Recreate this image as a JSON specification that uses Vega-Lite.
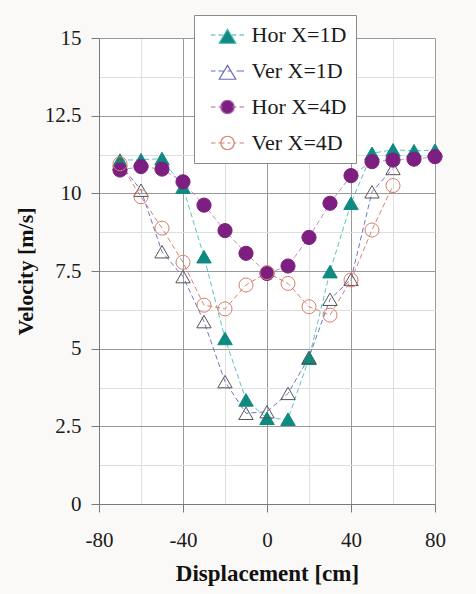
{
  "$schema": "https://vega.github.io/schema/vega-lite/v6.json",
  "autosize": {"type": "none"},
  "width": 336,
  "height": 466,
  "padding": {"left": 99, "top": 38, "right": 41, "bottom": 90},
  "background": "#faf9f7",
  "view": {"fill": "white", "stroke": null},
  "config": {
    "font": "Liberation Serif",
    "legend": {
      "orient": "none",
      "legendX": 95,
      "legendY": -23,
      "fillColor": "white",
      "strokeColor": "#8a8a8a",
      "padding": 9,
      "symbolOffset": 13.5,
      "labelOffset": 13,
      "rowPadding": 14,
      "symbolSize": 225,
      "symbolStrokeWidth": 1.2,
      "labelFont": "Liberation Serif",
      "labelFontSize": 22,
      "labelColor": "#1a1a1a",
      "labelLimit": 300
    }
  },
  "data": {
    "values": [
      {"s": "Hor X=1D", "x": -70, "v": 11.07},
      {"s": "Hor X=1D", "x": -60, "v": 11.08},
      {"s": "Hor X=1D", "x": -50, "v": 11.12},
      {"s": "Hor X=1D", "x": -40, "v": 10.2},
      {"s": "Hor X=1D", "x": -30, "v": 7.96},
      {"s": "Hor X=1D", "x": -20, "v": 5.33},
      {"s": "Hor X=1D", "x": -10, "v": 3.35},
      {"s": "Hor X=1D", "x": 0, "v": 2.76},
      {"s": "Hor X=1D", "x": 10, "v": 2.73},
      {"s": "Hor X=1D", "x": 20, "v": 4.69},
      {"s": "Hor X=1D", "x": 30, "v": 7.48},
      {"s": "Hor X=1D", "x": 40, "v": 9.68},
      {"s": "Hor X=1D", "x": 50, "v": 11.29},
      {"s": "Hor X=1D", "x": 60, "v": 11.4},
      {"s": "Hor X=1D", "x": 70, "v": 11.37},
      {"s": "Hor X=1D", "x": 80, "v": 11.39},
      {"s": "Ver X=1D", "x": -70, "v": 10.95},
      {"s": "Ver X=1D", "x": -60, "v": 10.1},
      {"s": "Ver X=1D", "x": -50, "v": 8.12},
      {"s": "Ver X=1D", "x": -40, "v": 7.32},
      {"s": "Ver X=1D", "x": -30, "v": 5.87},
      {"s": "Ver X=1D", "x": -20, "v": 3.94},
      {"s": "Ver X=1D", "x": -10, "v": 2.92},
      {"s": "Ver X=1D", "x": 0, "v": 2.97},
      {"s": "Ver X=1D", "x": 10, "v": 3.56},
      {"s": "Ver X=1D", "x": 20, "v": 4.72},
      {"s": "Ver X=1D", "x": 30, "v": 6.59},
      {"s": "Ver X=1D", "x": 40, "v": 7.23},
      {"s": "Ver X=1D", "x": 50, "v": 10.05},
      {"s": "Ver X=1D", "x": 60, "v": 10.8},
      {"s": "Hor X=4D", "x": -70, "v": 10.75},
      {"s": "Hor X=4D", "x": -60, "v": 10.86},
      {"s": "Hor X=4D", "x": -50, "v": 10.78},
      {"s": "Hor X=4D", "x": -40, "v": 10.37},
      {"s": "Hor X=4D", "x": -30, "v": 9.62},
      {"s": "Hor X=4D", "x": -20, "v": 8.8},
      {"s": "Hor X=4D", "x": -10, "v": 8.07},
      {"s": "Hor X=4D", "x": 0, "v": 7.42},
      {"s": "Hor X=4D", "x": 10, "v": 7.66},
      {"s": "Hor X=4D", "x": 20, "v": 8.58},
      {"s": "Hor X=4D", "x": 30, "v": 9.68},
      {"s": "Hor X=4D", "x": 40, "v": 10.57},
      {"s": "Hor X=4D", "x": 50, "v": 11.02},
      {"s": "Hor X=4D", "x": 60, "v": 11.07},
      {"s": "Hor X=4D", "x": 70, "v": 11.1},
      {"s": "Hor X=4D", "x": 80, "v": 11.18},
      {"s": "Ver X=4D", "x": -70, "v": 10.95},
      {"s": "Ver X=4D", "x": -60, "v": 9.89},
      {"s": "Ver X=4D", "x": -50, "v": 8.88},
      {"s": "Ver X=4D", "x": -40, "v": 7.78},
      {"s": "Ver X=4D", "x": -30, "v": 6.4},
      {"s": "Ver X=4D", "x": -20, "v": 6.28},
      {"s": "Ver X=4D", "x": -10, "v": 7.05},
      {"s": "Ver X=4D", "x": 0, "v": 7.45},
      {"s": "Ver X=4D", "x": 10, "v": 7.1},
      {"s": "Ver X=4D", "x": 20, "v": 6.35},
      {"s": "Ver X=4D", "x": 30, "v": 6.08},
      {"s": "Ver X=4D", "x": 40, "v": 7.21},
      {"s": "Ver X=4D", "x": 50, "v": 8.82},
      {"s": "Ver X=4D", "x": 60, "v": 10.25}
    ]
  },
  "layer": [
    {
      "mark": {"type": "line", "strokeDash": [5, 3], "strokeWidth": 1},
      "encoding": {
        "x": {"field": "x", "type": "quantitative",
          "scale": {"domain": [-80, 80], "nice": false, "zero": false},
          "axis": {"orient": "bottom", "values": [-60, -20, 20, 60], "grid": true, "gridColor": "#dedede", "domain": false, "ticks": false, "labels": false, "title": null}},
        "y": {"field": "v", "type": "quantitative",
          "scale": {"domain": [0, 15], "nice": false, "zero": false},
          "axis": {"orient": "left", "values": [1.25, 3.75, 6.25, 8.75, 11.25, 13.75], "grid": true, "gridColor": "#dedede", "domain": false, "ticks": false, "labels": false, "title": null}},
        "stroke": {"field": "s", "type": "nominal",
          "scale": {"domain": ["Hor X=1D", "Ver X=1D", "Hor X=4D", "Ver X=4D"], "range": ["#5cc4bf", "#7272cc", "#c78ac8", "#d4846f"]},
          "legend": null}
      }
    },
    {
      "mark": {"type": "point", "strokeWidth": 1, "opacity": 1},
      "encoding": {
        "x": {"field": "x", "type": "quantitative",
          "scale": {"domain": [-80, 80], "nice": false, "zero": false},
          "axis": {"orient": "bottom", "values": [-80, -40, 0, 40, 80], "labelExpr": "'' + datum.value", "grid": true, "gridColor": "#9a9a9a", "domainColor": "#7a7a7a", "tickColor": "#7a7a7a", "tickSize": 8, "labelPadding": 17, "labelFont": "Liberation Serif", "labelFontSize": 21, "labelColor": "#1a1a1a", "labelFlush": false, "labelOverlap": false, "title": "Displacement [cm]", "titleFont": "Liberation Serif", "titleFontWeight": "bold", "titleFontSize": 23, "titleColor": "#111", "titlePadding": 12}},
        "y": {"field": "v", "type": "quantitative",
          "scale": {"domain": [0, 15], "nice": false, "zero": false},
          "axis": {"orient": "left", "values": [0, 2.5, 5, 7.5, 10, 12.5, 15], "labelExpr": "'' + datum.value", "grid": true, "gridColor": "#9a9a9a", "domainColor": "#7a7a7a", "tickColor": "#7a7a7a", "tickSize": 8, "labelPadding": 10, "labelFont": "Liberation Serif", "labelFontSize": 21, "labelColor": "#1a1a1a", "labelFlush": false, "labelOverlap": false, "title": "Velocity [m/s]", "titleFont": "Liberation Serif", "titleFontWeight": "bold", "titleFontSize": 22, "titleColor": "#111", "titlePadding": 7}},
        "shape": {"field": "s", "type": "nominal",
          "scale": {"domain": ["Hor X=1D", "Ver X=1D", "Hor X=4D", "Ver X=4D"], "range": ["triangle-up", "triangle-up", "circle", "circle"]},
          "legend": null},
        "fill": {"field": "s", "type": "nominal",
          "scale": {"domain": ["Hor X=1D", "Ver X=1D", "Hor X=4D", "Ver X=4D"], "range": ["#0f8a80", "transparent", "#7d1f80", "transparent"]},
          "legend": null},
        "stroke": {"field": "s", "type": "nominal",
          "scale": {"domain": ["Hor X=1D", "Ver X=1D", "Hor X=4D", "Ver X=4D"], "range": ["#0f8a80", "#555555", "#7d1f80", "#d4806c"]},
          "legend": null},
        "size": {"field": "s", "type": "nominal",
          "scale": {"domain": ["Hor X=1D", "Ver X=1D", "Hor X=4D", "Ver X=4D"], "range": [210, 196, 165, 165]},
          "legend": null}
      }
    },
    {
      "transform": [{"filter": "datum.v > 100"}],
      "mark": {"type": "point", "strokeWidth": 1.2, "opacity": 1},
      "encoding": {
        "x": {"field": "x", "type": "quantitative", "scale": {"domain": [-80, 80]}, "axis": null},
        "y": {"field": "v", "type": "quantitative", "scale": {"domain": [0, 15]}, "axis": null},
        "shape": {"field": "s", "type": "nominal",
          "scale": {"domain": ["Hor X=1D", "Ver X=1D", "Hor X=4D", "Ver X=4D"],
            "range": [
              "M-2.2,0L-1.6,0M-1.2,0L-0.6,0M0.6,0L1.2,0M1.6,0L2.2,0M0,-0.75L1.1,1.1L-1.1,1.1Z",
              "M-2.2,0L-1.6,0M-1.2,0L-0.4,0M0,0L0.4,0M1.2,0L1.6,0M1.6,0L2.2,0M0,-0.75L1.1,1.1L-1.1,1.1Z",
              "M-2.2,0L-1.6,0M-1.2,0L-0.6,0M0.6,0L1.2,0M1.6,0L2.2,0M0.9,0A0.9,0.9,0,1,1,-0.9,0A0.9,0.9,0,1,1,0.9,0Z",
              "M-2.2,0L-1.6,0M-1.2,0L-0.4,0M0,0L0.4,0M0.8,0L1.2,0M1.6,0L2.2,0M0.9,0A0.9,0.9,0,1,1,-0.9,0A0.9,0.9,0,1,1,0.9,0Z"
            ]},
          "legend": {"title": null}},
        "fill": {"field": "s", "type": "nominal",
          "scale": {"domain": ["Hor X=1D", "Ver X=1D", "Hor X=4D", "Ver X=4D"], "range": ["#0f8a80", "transparent", "#7d1f80", "transparent"]},
          "legend": {"title": null}},
        "stroke": {"field": "s", "type": "nominal",
          "scale": {"domain": ["Hor X=1D", "Ver X=1D", "Hor X=4D", "Ver X=4D"], "range": ["#3fb0aa", "#6a6ac4", "#a865aa", "#d4806c"]},
          "legend": {"title": null}}
      }
    }
  ],
  "resolve": {
    "scale": {"x": "independent", "y": "independent", "stroke": "independent", "fill": "independent", "shape": "independent", "size": "independent"},
    "axis": {"x": "independent", "y": "independent"}
  }
}
